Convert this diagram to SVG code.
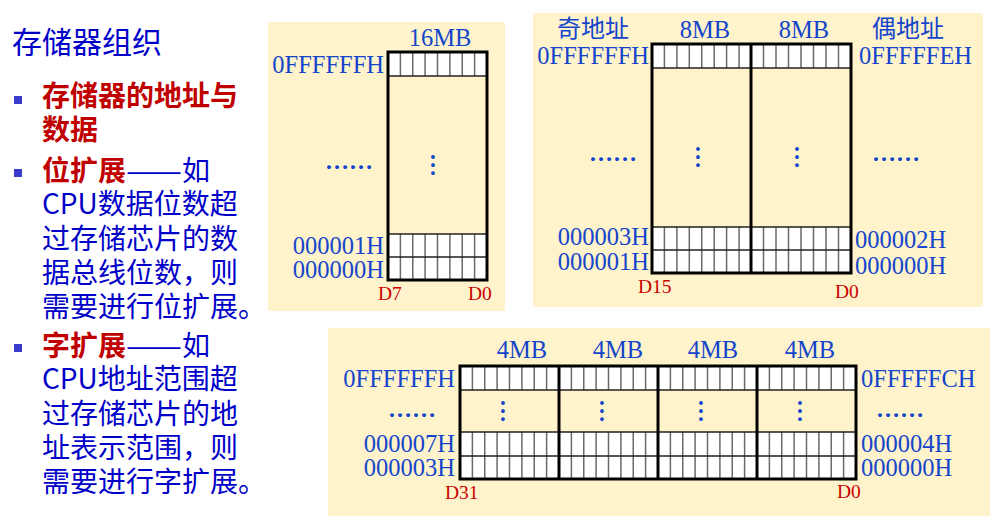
<svg xmlns="http://www.w3.org/2000/svg" width="995" height="523" viewBox="0 0 995 523">
<style>
.bg{fill:#FEF3CA}
.cn{font-family:"Noto Sans CJK SC","Noto Sans",sans-serif}
.t{font-size:28px;fill:#0000C8}
.r{fill:#C00000;font-weight:bold}
.lab{font-family:"Liberation Serif",serif;font-size:24.5px;fill:#1445CC}
.cnl{font-family:"Noto Sans CJK SC",sans-serif;font-size:24px;fill:#1445CC}
.d{font-family:"Liberation Serif",serif;font-size:19.5px;fill:#CC0000}
.dot{font-family:"Liberation Serif",serif;font-size:24px;font-weight:bold;fill:#1445CC}
.cell{fill:#FFFFFF}
.vl{fill:none;stroke:#6a6a6a;stroke-width:1.5}
.hl{fill:none;stroke:#222;stroke-width:1.5}
.box{fill:none;stroke:#000;stroke-width:3}
.bul{fill:#3a3acc}
</style>

<g id="text-panel">
<text class="cn" x="12" y="53" font-size="30" fill="#0000C8">存储器组织</text>
<rect class="bul" x="14" y="96" width="8" height="8"/>
<text class="cn t r" x="42" y="106">存储器的地址与</text>
<text class="cn t r" x="42" y="140">数据</text>
<rect class="bul" x="14" y="169" width="8" height="8"/>
<text class="cn t" x="42" y="181"><tspan class="r">位扩展</tspan><tspan x="126" textLength="56" lengthAdjust="spacingAndGlyphs">——</tspan><tspan x="182">如</tspan></text>
<text class="cn t" x="42" y="214">CPU数据位数超</text>
<text class="cn t" x="42" y="249">过存储芯片的数</text>
<text class="cn t" x="42" y="283">据总线位数，则</text>
<text class="cn t" x="42" y="317">需要进行位扩展。</text>
<rect class="bul" x="14" y="344" width="8" height="8"/>
<text class="cn t" x="42" y="356"><tspan class="r">字扩展</tspan><tspan x="126" textLength="56" lengthAdjust="spacingAndGlyphs">——</tspan><tspan x="182">如</tspan></text>
<text class="cn t" x="42" y="389">CPU地址范围超</text>
<text class="cn t" x="42" y="424">过存储芯片的地</text>
<text class="cn t" x="42" y="458">址表示范围，则</text>
<text class="cn t" x="42" y="492">需要进行字扩展。</text>
</g>

<g id="panel-byte">
<rect class="bg" x="268" y="22" width="237" height="289"/>
<rect class="cell" x="388" y="52" width="99" height="24"/>
<rect class="cell" x="388" y="234" width="99" height="46"/>
<path class="vl" d="M400.4 52V76M412.75 52V76M425.1 52V76M437.5 52V76M449.9 52V76M462.25 52V76M474.6 52V76M400.4 234V280M412.75 234V280M425.1 234V280M437.5 234V280M449.9 234V280M462.25 234V280M474.6 234V280"/>
<path class="hl" d="M388 76H487M388 234H487M388 257H487"/>
<rect class="box" x="388" y="52" width="99" height="228"/>
<text class="lab" x="440" y="46" text-anchor="middle">16MB</text>
<text class="lab" x="384" y="73" text-anchor="end">0FFFFFFH</text>
<text class="lab" x="384" y="254" text-anchor="end">000001H</text>
<text class="lab" x="384" y="278" text-anchor="end">000000H</text>
<text class="dot" x="325" y="169">……</text>
<text class="dot" transform="translate(431 165) rotate(90)" text-anchor="middle">…</text>
<text class="d" x="378" y="300">D7</text>
<text class="d" x="468" y="300">D0</text>
</g>

<g id="panel-word">
<rect class="bg" x="533" y="13" width="450" height="294"/>
<rect class="cell" x="652" y="44" width="199" height="24"/>
<rect class="cell" x="652" y="227" width="199" height="46"/>
<path class="vl" d="M664.4 44V68M676.9 44V68M689.3 44V68M701.75 44V68M714.2 44V68M726.6 44V68M739.1 44V68M763.5 44V68M776 44V68M788.5 44V68M801 44V68M813.5 44V68M826 44V68M838.5 44V68M664.4 227V273M676.9 227V273M689.3 227V273M701.75 227V273M714.2 227V273M726.6 227V273M739.1 227V273M763.5 227V273M776 227V273M788.5 227V273M801 227V273M813.5 227V273M826 227V273M838.5 227V273"/>
<path class="hl" d="M652 68H851M652 227H851M652 250H851"/>
<rect class="box" x="652" y="44" width="199" height="229"/>
<path class="box" d="M751 44V273"/>
<text class="cnl" x="557" y="37">奇地址</text>
<text class="cnl" x="872" y="37">偶地址</text>
<text class="lab" x="705" y="38" text-anchor="middle">8MB</text>
<text class="lab" x="804" y="38" text-anchor="middle">8MB</text>
<text class="lab" x="649" y="64" text-anchor="end">0FFFFFFH</text>
<text class="lab" x="859" y="64">0FFFFFEH</text>
<text class="dot" x="589" y="161">……</text>
<text class="dot" x="872" y="161">……</text>
<text class="dot" transform="translate(696 157) rotate(90)" text-anchor="middle">…</text>
<text class="dot" transform="translate(795 157) rotate(90)" text-anchor="middle">…</text>
<text class="lab" x="649" y="245" text-anchor="end">000003H</text>
<text class="lab" x="649" y="270" text-anchor="end">000001H</text>
<text class="lab" x="855" y="248">000002H</text>
<text class="lab" x="855" y="274">000000H</text>
<text class="d" x="638" y="293">D15</text>
<text class="d" x="835" y="298">D0</text>
</g>

<g id="panel-dword">
<rect class="bg" x="328" y="328" width="662" height="188"/>
<rect class="cell" x="460" y="366" width="396" height="24"/>
<rect class="cell" x="460" y="432" width="396" height="47"/>
<path class="vl" d="M472.4 366V390M484.75 366V390M497.1 366V390M509.5 366V390M521.9 366V390M534.25 366V390M546.6 366V390M571.4 366V390M583.75 366V390M596.1 366V390M608.5 366V390M620.9 366V390M633.25 366V390M645.6 366V390M670.4 366V390M682.75 366V390M695.1 366V390M707.5 366V390M719.9 366V390M732.25 366V390M744.6 366V390M769.4 366V390M781.75 366V390M794.1 366V390M806.5 366V390M818.9 366V390M831.25 366V390M843.6 366V390M472.4 432V479M484.75 432V479M497.1 432V479M509.5 432V479M521.9 432V479M534.25 432V479M546.6 432V479M571.4 432V479M583.75 432V479M596.1 432V479M608.5 432V479M620.9 432V479M633.25 432V479M645.6 432V479M670.4 432V479M682.75 432V479M695.1 432V479M707.5 432V479M719.9 432V479M732.25 432V479M744.6 432V479M769.4 432V479M781.75 432V479M794.1 432V479M806.5 432V479M818.9 432V479M831.25 432V479M843.6 432V479"/>
<path class="hl" d="M460 390H856M460 432H856M460 456H856"/>
<rect class="box" x="460" y="366" width="396" height="113"/>
<path class="box" d="M559 366V479M658 366V479M757 366V479"/>
<text class="lab" x="522" y="358" text-anchor="middle">4MB</text>
<text class="lab" x="618" y="358" text-anchor="middle">4MB</text>
<text class="lab" x="713" y="358" text-anchor="middle">4MB</text>
<text class="lab" x="810" y="358" text-anchor="middle">4MB</text>
<text class="lab" x="455" y="387" text-anchor="end">0FFFFFFH</text>
<text class="dot" x="388" y="417">……</text>
<text class="lab" x="455" y="452" text-anchor="end">000007H</text>
<text class="lab" x="455" y="476" text-anchor="end">000003H</text>
<text class="lab" x="861" y="387">0FFFFFCH</text>
<text class="dot" x="876" y="417">……</text>
<text class="lab" x="861" y="452">000004H</text>
<text class="lab" x="861" y="476">000000H</text>
<text class="dot" transform="translate(501 411) rotate(90)" text-anchor="middle">…</text>
<text class="dot" transform="translate(600 411) rotate(90)" text-anchor="middle">…</text>
<text class="dot" transform="translate(699 411) rotate(90)" text-anchor="middle">…</text>
<text class="dot" transform="translate(798 411) rotate(90)" text-anchor="middle">…</text>
<text class="d" x="445" y="499">D31</text>
<text class="d" x="837" y="498">D0</text>
</g>
</svg>
